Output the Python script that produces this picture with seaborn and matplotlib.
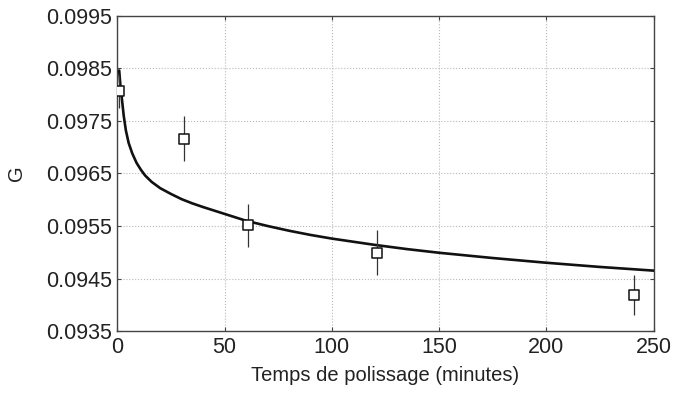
import numpy as np
import pandas as pd
import matplotlib
matplotlib.use("Agg")
import matplotlib.pyplot as plt
import seaborn as sns

# ========== DONNEES ==========
# points mesurés (temps en minutes, G, erreur)
temps = [1, 31, 61, 121, 241]
g_mesure = [0.09806, 0.09716, 0.09551, 0.09499, 0.09419]
g_err = [0.00032, 0.00043, 0.00041, 0.00043, 0.00038]

# courbe ajustée
temps_courbe = [0.9, 1.5, 2.2, 3.0, 4.0, 5.3, 7.0, 9.0, 11.0, 13.0, 16.0, 20.0, 25.0,
                30.0, 35.0, 40.0, 50.0, 60.0, 70.0, 80.0, 90.0, 100.0, 110.0, 120.0,
                135.0, 150.0, 175.0, 200.0, 225.0, 250.0]
g_courbe = [0.09846, 0.09815, 0.09790, 0.09760, 0.09732, 0.09708, 0.09688, 0.09670,
            0.09657, 0.09646, 0.09634, 0.09622, 0.09611, 0.09601, 0.09593, 0.09586,
            0.09573, 0.09560, 0.09550, 0.09541, 0.09533, 0.09526, 0.09520, 0.09514,
            0.09506, 0.09499, 0.09489, 0.09480, 0.09472, 0.09465]

df_pts = pd.DataFrame({"temps": temps, "G": g_mesure, "err": g_err})
df_courbe = pd.DataFrame({"temps": temps_courbe, "G": g_courbe})

# ========== GRAPHIQUE ==========
sns.set_style("white")
plt.rcParams['font.family'] = ['Liberation Sans', 'DejaVu Sans']

fig = plt.figure(figsize=(6.74, 3.96), dpi=100)
ax = fig.add_axes([0.174, 0.164, 0.796, 0.796])

sns.lineplot(data=df_courbe, x="temps", y="G", color="#111111", linewidth=1.9, ax=ax,
             zorder=3, solid_joinstyle="round")
ax.errorbar(df_pts["temps"], df_pts["G"], yerr=df_pts["err"], fmt="none",
            ecolor="#333333", elinewidth=0.9, capsize=0, zorder=4)
sns.scatterplot(data=df_pts, x="temps", y="G", marker="s", s=45, facecolor="white",
                edgecolor="#111111", linewidth=1.1, ax=ax, zorder=5)

ax.set_xlim(0, 250)
ax.set_ylim(0.0935, 0.0995)
ax.set_xticks([0, 50, 100, 150, 200, 250])
ax.set_yticks([0.0935, 0.0945, 0.0955, 0.0965, 0.0975, 0.0985, 0.0995])
ax.set_yticklabels(["0.0935", "0.0945", "0.0955", "0.0965", "0.0975", "0.0985", "0.0995"])

ax.grid(True, color="#b8b8b8", linestyle=":", linewidth=0.8)
ax.tick_params(direction="in", length=3, width=0.8, colors="#444444", labelsize=15.5,
               labelcolor="#222222", right=True, left=True, bottom=True, top=True, pad=4)
for s in ax.spines.values():
    s.set_color("#444444")
    s.set_linewidth(1.0)

ax.set_xlabel("Temps de polissage (minutes)", fontsize=14.5, color="#222222", labelpad=6)
ax.set_ylabel("G", fontsize=14.5, color="#222222", labelpad=14)

fig.savefig("out.png", dpi=100)
